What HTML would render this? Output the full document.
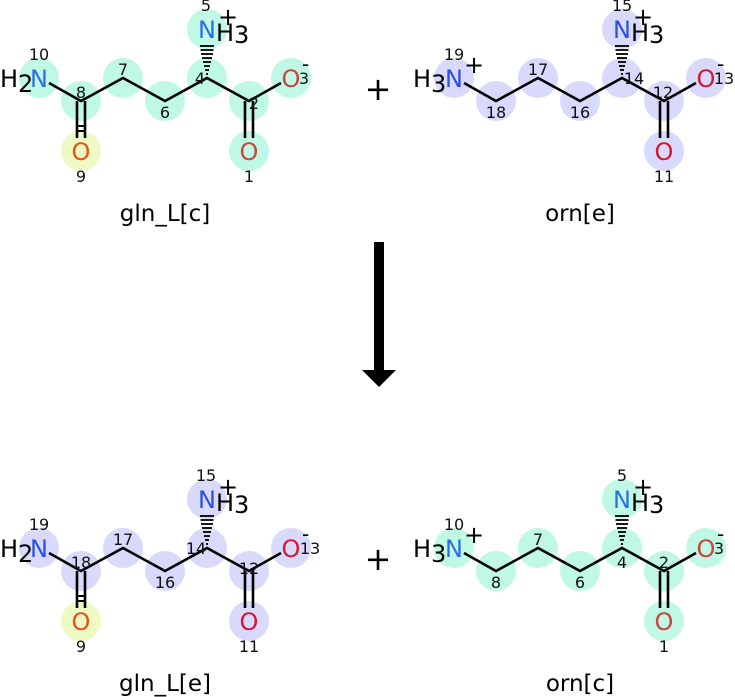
<!DOCTYPE html>
<html><head><meta charset="utf-8"><style>
html,body{margin:0;padding:0;background:#fff;}
svg{display:block;font-family:"DejaVu Sans","Liberation Sans",sans-serif;}
.a{font-size:24px;text-anchor:middle;}
.i{font-size:16px;text-anchor:middle;fill:#111;}
.b{stroke:#000;stroke-width:2.6;fill:none;}
.lbl{font-size:23px;text-anchor:middle;}
.h{font-size:24px;fill:#000;}
</style></head><body>
<svg width="735" height="697" viewBox="0 0 735 697" xmlns="http://www.w3.org/2000/svg">
<defs>
<g id="hash">
<line x1="200" y1="46" x2="214" y2="46" stroke="#000" stroke-width="1.8"/>
<line x1="200.5" y1="50" x2="213.5" y2="50" stroke="#000" stroke-width="1.8"/>
<line x1="201" y1="54" x2="213" y2="54" stroke="#000" stroke-width="1.8"/>
<line x1="202" y1="58" x2="212" y2="58" stroke="#000" stroke-width="1.8"/>
<line x1="203" y1="62" x2="211" y2="62" stroke="#000" stroke-width="1.8"/>
<line x1="204" y1="66" x2="210" y2="66" stroke="#000" stroke-width="1.8"/>
<line x1="205" y1="70" x2="209" y2="70" stroke="#000" stroke-width="1.8"/>
<line x1="206" y1="74" x2="208" y2="74" stroke="#000" stroke-width="1.8"/>
</g>
</defs>

<!-- ===== top-left gln_L[c] ===== -->
<g>
<g fill="#bff8e4">
<circle cx="39" cy="78" r="20"/><circle cx="81" cy="101" r="20"/><circle cx="123" cy="78" r="20"/>
<circle cx="165" cy="101" r="20"/><circle cx="207" cy="78" r="20"/><circle cx="249" cy="101" r="20"/>
<circle cx="291" cy="78" r="20"/><circle cx="249" cy="151" r="20"/><circle cx="207" cy="29" r="20"/>
</g>
<circle cx="81" cy="151" r="20" fill="#eefac4"/>
<path class="b" d="M49 83 L81 101 L123 78 L165 101 L207 78 L249 101 L281 83"/>
<path class="b" d="M77 101 V138 M85 101 V138 M245 101 V138 M253 101 V138"/>
<path d="M76 126 H86 M76 131 H86" stroke="#000" stroke-width="2"/>
<use href="#hash"/>
<text class="h" x="0" y="87">H<tspan dy="5">2</tspan></text>
<text class="a" x="39" y="87" fill="#2a6fe8">N</text>
<text class="a" x="81" y="160" fill="#e8501a">O</text>
<text class="a" x="249" y="160" fill="#c8463a">O</text>
<text class="a" x="291" y="87" fill="#c8463a">O</text>
<text class="a" x="207" y="38" fill="#2a6fe8">N</text>
<text class="h" x="216" y="41">H<tspan dy="2">3</tspan></text>
<text class="h" x="218" y="25">+</text>
<text x="302" y="71" font-size="20" fill="#000">-</text>
<text class="i" x="39" y="60">10</text><text class="i" x="81" y="98">8</text>
<text class="i" x="123" y="75">7</text><text class="i" x="165" y="118">6</text>
<text class="i" x="200" y="84">4</text><text class="i" x="254" y="109">2</text>
<text class="i" x="304" y="84">3</text><text class="i" x="249" y="182">1</text>
<text class="i" x="81" y="182">9</text><text class="i" x="206" y="11">5</text>
<text class="lbl" x="165" y="221">gln_L[c]</text>
</g>

<!-- ===== top-right orn[e] ===== -->
<g>
<g fill="#d8d9fb">
<circle cx="454" cy="78" r="20"/><circle cx="496" cy="101" r="20"/><circle cx="538" cy="78" r="20"/>
<circle cx="580" cy="101" r="20"/><circle cx="622" cy="78" r="20"/><circle cx="664" cy="101" r="20"/>
<circle cx="706" cy="78" r="20"/><circle cx="664" cy="151" r="20"/><circle cx="622" cy="29" r="20"/>
</g>
<path class="b" d="M464 83 L496 101 L538 78 L580 101 L622 78 L664 101 L696 83"/>
<path class="b" d="M660 101 V138 M668 101 V138"/>
<use href="#hash" transform="translate(415,0)"/>
<text class="h" x="413" y="87">H<tspan dy="5">3</tspan></text>
<text class="a" x="454" y="87" fill="#2a4fe8">N</text>
<text class="h" x="464" y="73">+</text>
<text class="a" x="664" y="160" fill="#d81535">O</text>
<text class="a" x="706" y="87" fill="#d81535">O</text>
<text class="a" x="622" y="38" fill="#2a4fe8">N</text>
<text class="h" x="631" y="41">H<tspan dy="2">3</tspan></text>
<text class="h" x="633" y="25">+</text>
<text x="717" y="71" font-size="20" fill="#000">-</text>
<text class="i" x="454" y="60">19</text><text class="i" x="496" y="118">18</text>
<text class="i" x="538" y="75">17</text><text class="i" x="580" y="118">16</text>
<text class="i" x="634" y="84">14</text><text class="i" x="663" y="98">12</text>
<text class="i" x="724" y="84">13</text><text class="i" x="664" y="182">11</text>
<text class="i" x="622" y="11">15</text>
<text class="lbl" x="580" y="221">orn[e]</text>
</g>

<text x="378" y="100" font-size="32" text-anchor="middle" fill="#000">+</text>

<rect x="374" y="242" width="10" height="130" fill="#000"/>
<polygon points="362,370 396,370 379,387" fill="#000"/>

<!-- ===== bottom-left gln_L[e] ===== -->
<g transform="translate(0,470)">
<g fill="#d8d9fb">
<circle cx="39" cy="78" r="20"/><circle cx="81" cy="101" r="20"/><circle cx="123" cy="78" r="20"/>
<circle cx="165" cy="101" r="20"/><circle cx="207" cy="78" r="20"/><circle cx="249" cy="101" r="20"/>
<circle cx="291" cy="78" r="20"/><circle cx="249" cy="151" r="20"/><circle cx="207" cy="29" r="20"/>
</g>
<circle cx="81" cy="151" r="20" fill="#eefac4"/>
<path class="b" d="M49 83 L81 101 L123 78 L165 101 L207 78 L249 101 L281 83"/>
<path class="b" d="M77 101 V138 M85 101 V138 M245 101 V138 M253 101 V138"/>
<path d="M76 126 H86 M76 131 H86" stroke="#000" stroke-width="2"/>
<use href="#hash"/>
<text class="h" x="0" y="87">H<tspan dy="5">2</tspan></text>
<text class="a" x="39" y="87" fill="#2a4fe8">N</text>
<text class="a" x="81" y="160" fill="#e8501a">O</text>
<text class="a" x="249" y="160" fill="#d81535">O</text>
<text class="a" x="291" y="87" fill="#d81535">O</text>
<text class="a" x="207" y="38" fill="#2a4fe8">N</text>
<text class="h" x="216" y="41">H<tspan dy="2">3</tspan></text>
<text class="h" x="218" y="25">+</text>
<text x="302" y="71" font-size="20" fill="#000">-</text>
<text class="i" x="39" y="60">19</text><text class="i" x="81" y="98">18</text>
<text class="i" x="123" y="75">17</text><text class="i" x="165" y="118">16</text>
<text class="i" x="196" y="84">14</text><text class="i" x="249" y="104">12</text>
<text class="i" x="310" y="84">13</text><text class="i" x="249" y="182">11</text>
<text class="i" x="81" y="182">9</text><text class="i" x="206" y="11">15</text>
<text class="lbl" x="165" y="221">gln_L[e]</text>
</g>

<!-- ===== bottom-right orn[c] ===== -->
<g transform="translate(0,470)">
<g fill="#bff8e4">
<circle cx="454" cy="78" r="20"/><circle cx="496" cy="101" r="20"/><circle cx="538" cy="78" r="20"/>
<circle cx="580" cy="101" r="20"/><circle cx="622" cy="78" r="20"/><circle cx="664" cy="101" r="20"/>
<circle cx="706" cy="78" r="20"/><circle cx="664" cy="151" r="20"/><circle cx="622" cy="29" r="20"/>
</g>
<path class="b" d="M464 83 L496 101 L538 78 L580 101 L622 78 L664 101 L696 83" stroke="#0a3a2a"/>
<path class="b" d="M660 101 V138 M668 101 V138"/>
<use href="#hash" transform="translate(415,0)"/>
<text class="h" x="413" y="87">H<tspan dy="5">3</tspan></text>
<text class="a" x="454" y="87" fill="#2a6fe8">N</text>
<text class="h" x="464" y="73">+</text>
<text class="a" x="664" y="160" fill="#c8463a">O</text>
<text class="a" x="706" y="87" fill="#c8463a">O</text>
<text class="a" x="622" y="38" fill="#2a6fe8">N</text>
<text class="h" x="631" y="41">H<tspan dy="2">3</tspan></text>
<text class="h" x="633" y="25">+</text>
<text x="717" y="71" font-size="20" fill="#000">-</text>
<text class="i" x="454" y="60">10</text><text class="i" x="496" y="118">8</text>
<text class="i" x="538" y="75">7</text><text class="i" x="580" y="118">6</text>
<text class="i" x="622" y="98">4</text><text class="i" x="664" y="98">2</text>
<text class="i" x="719" y="84">3</text><text class="i" x="664" y="182">1</text>
<text class="i" x="622" y="11">5</text>
<text class="lbl" x="580" y="221">orn[c]</text>
</g>

<text x="378" y="570" font-size="32" text-anchor="middle" fill="#000">+</text>
</svg>
</body></html>
